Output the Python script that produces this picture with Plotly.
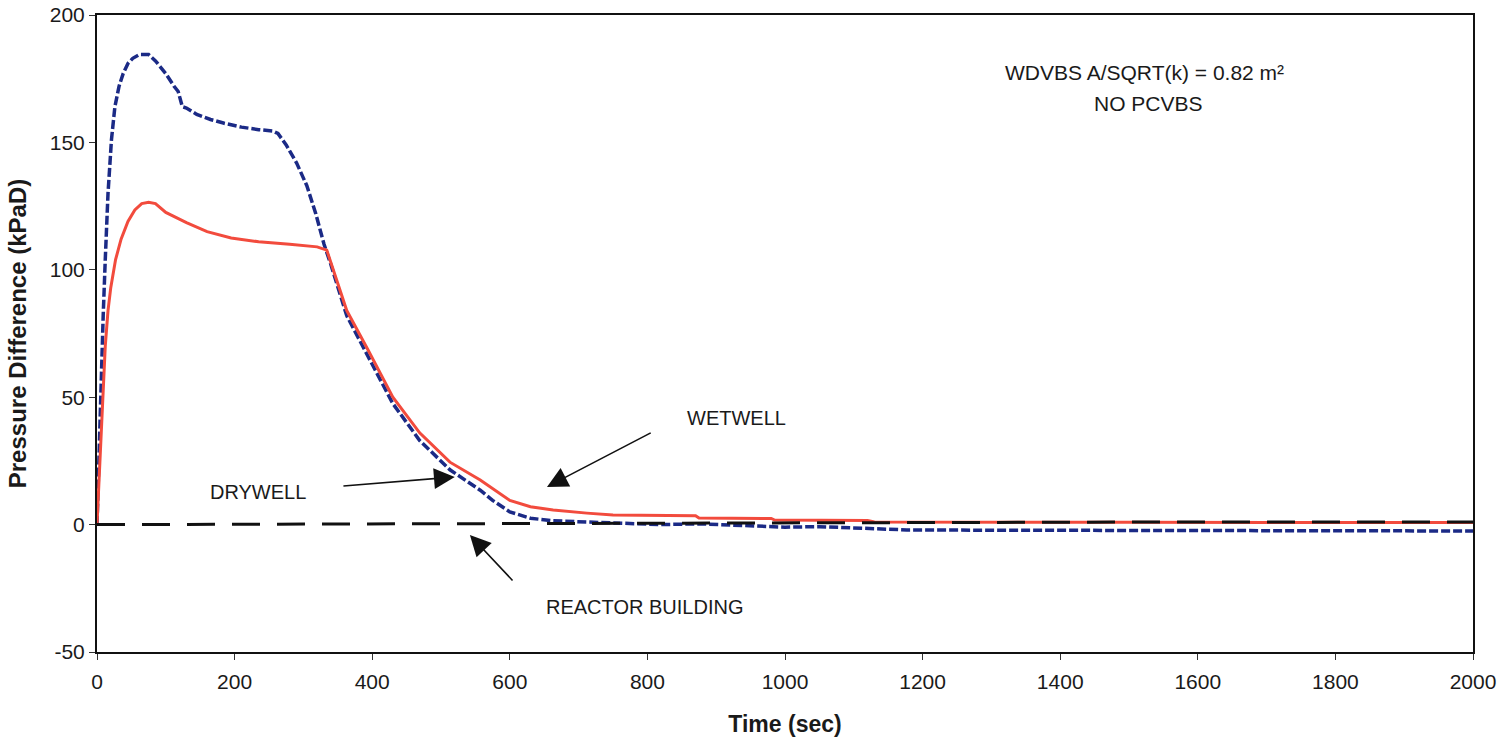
import plotly.graph_objects as go

# ---- data ----
drywell_t = [0, 2, 4, 6, 9, 12, 16, 21, 26, 32, 38, 45, 52, 62, 75, 85, 100, 112, 118, 124,
             130, 145, 165, 185, 210, 235, 255, 263, 275, 290, 305, 318, 330, 340, 363, 394,
             430, 469, 513, 557, 575, 600, 630, 663, 700, 760, 820, 876, 950, 1000, 1050,
             1100, 1177, 1300, 1500, 1700, 1900, 2000]
drywell_p = [0, 20, 40, 60, 82, 104, 130, 151, 164, 172, 177, 181, 183, 184.5, 184.5, 182, 177,
             172, 170, 164, 163.5, 161, 159, 157.5, 156, 155, 154.5, 153.5, 149, 142, 133, 122,
             110, 102, 82, 66, 47.5, 33, 21.5, 13.5, 9.5, 5, 2.5, 1.5, 1.2, 0.8, 0, 0.3, -0.5,
             -1, -0.8, -1.2, -2.1, -2.2, -2.3, -2.4, -2.5, -2.5]

wetwell_t = [0, 4, 8, 12, 16, 20, 27, 35, 45, 55, 65, 75, 85, 100, 130, 160, 195, 235, 280,
             320, 334, 363, 394, 430, 469, 513, 557, 600, 630, 663, 712, 750, 870, 875, 980,
             985, 1120, 1130, 1500, 2000]
wetwell_p = [0, 25, 50, 70, 84, 93, 104, 112, 119, 123.5, 126, 126.5, 126, 122.5, 118.5, 115,
             112.5, 111, 110, 109, 107.7, 84, 68.5, 50, 36, 24.5, 17.5, 9.5, 7, 5.7, 4.5, 3.8,
             3.5, 2.6, 2.4, 1.8, 1.6, 1.0, 0.9, 0.8]

reactor_t = [0, 500, 1000, 1500, 2000]
reactor_p = [0, 0.4, 0.8, 1.0, 1.0]

x_ticks = [0, 200, 400, 600, 800, 1000, 1200, 1400, 1600, 1800, 2000]
y_ticks = [-50, 0, 50, 100, 150, 200]
y_ticktext = ["-50", "0", "50", "100", "150", "200"]

FONT = "Liberation Sans, Arial, sans-serif"
TXT = "#1a1a1a"

fig = go.Figure()
fig.add_trace(go.Scatter(x=drywell_t, y=drywell_p, mode="lines", name="DRYWELL",
                         line=dict(color="#1b2a86", width=3.5, dash="9px,3px")))
fig.add_trace(go.Scatter(x=wetwell_t, y=wetwell_p, mode="lines", name="WETWELL",
                         line=dict(color="#f24b3d", width=3)))
fig.add_trace(go.Scatter(x=reactor_t, y=reactor_p, mode="lines", name="REACTOR BUILDING",
                         line=dict(color="#111111", width=3, dash="28px,17px")))

labels = [
    dict(x=930, y=41.8, text="WETWELL", size=20),
    dict(x=234, y=12.8, text="DRYWELL", size=20),
    dict(x=796, y=-32.4, text="REACTOR BUILDING", size=20),
    dict(x=1522, y=177.6, text="WDVBS A/SQRT(k) = 0.82 m²", size=21),
    dict(x=1528, y=165.4, text="NO PCVBS", size=21),
]
annotations = []
for l in labels:
    annotations.append(dict(x=l["x"], y=l["y"], xref="x", yref="y", text=l["text"],
                            showarrow=False, font=dict(family=FONT, size=l["size"], color=TXT)))

arrows = [
    dict(x=654, y=14.8, ax=807, ay=36.3),
    dict(x=520, y=18.7, ax=356, ay=15.1),
    dict(x=542, y=-4.1, ax=606, ay=-22.5),
]
for a in arrows:
    annotations.append(dict(x=a["x"], y=a["y"], ax=a["ax"], ay=a["ay"], xref="x", yref="y",
                            axref="x", ayref="y", text="", showarrow=True, arrowhead=2,
                            arrowsize=2.6, arrowwidth=1.6, arrowcolor="#111111"))

fig.update_layout(
    width=1512, height=740,
    margin=dict(l=97, r=39, t=15, b=88),
    paper_bgcolor="white", plot_bgcolor="white",
    showlegend=False,
    font=dict(family=FONT, size=21, color=TXT),
    annotations=annotations,
)
fig.update_xaxes(range=[0, 2000], tickvals=x_ticks, ticks="outside", ticklen=6, tickwidth=1,
                 tickcolor="#333", showline=True, linecolor="#111", linewidth=2, mirror=True,
                 showgrid=False, zeroline=False, automargin=False, ticklabelstandoff=4,
                 tickfont=dict(family=FONT, size=21, color=TXT),
                 title=dict(text="<b>Time (sec)</b>", standoff=24,
                            font=dict(family=FONT, size=23, color=TXT)))
fig.update_yaxes(range=[-50, 200], tickvals=y_ticks, ticktext=y_ticktext, ticks="outside",
                 ticklen=6, tickwidth=1,
                 tickcolor="#333", showline=True, linecolor="#111", linewidth=2, mirror=True,
                 showgrid=False, zeroline=False, automargin=False,
                 tickfont=dict(family=FONT, size=21, color=TXT),
                 title=dict(text="<b>Pressure Difference (kPaD)</b>", standoff=16,
                            font=dict(family=FONT, size=24, color=TXT)))

fig.write_html("out.html", config={"displayModeBar": False},
               post_script="document.body.style.margin='0';")
